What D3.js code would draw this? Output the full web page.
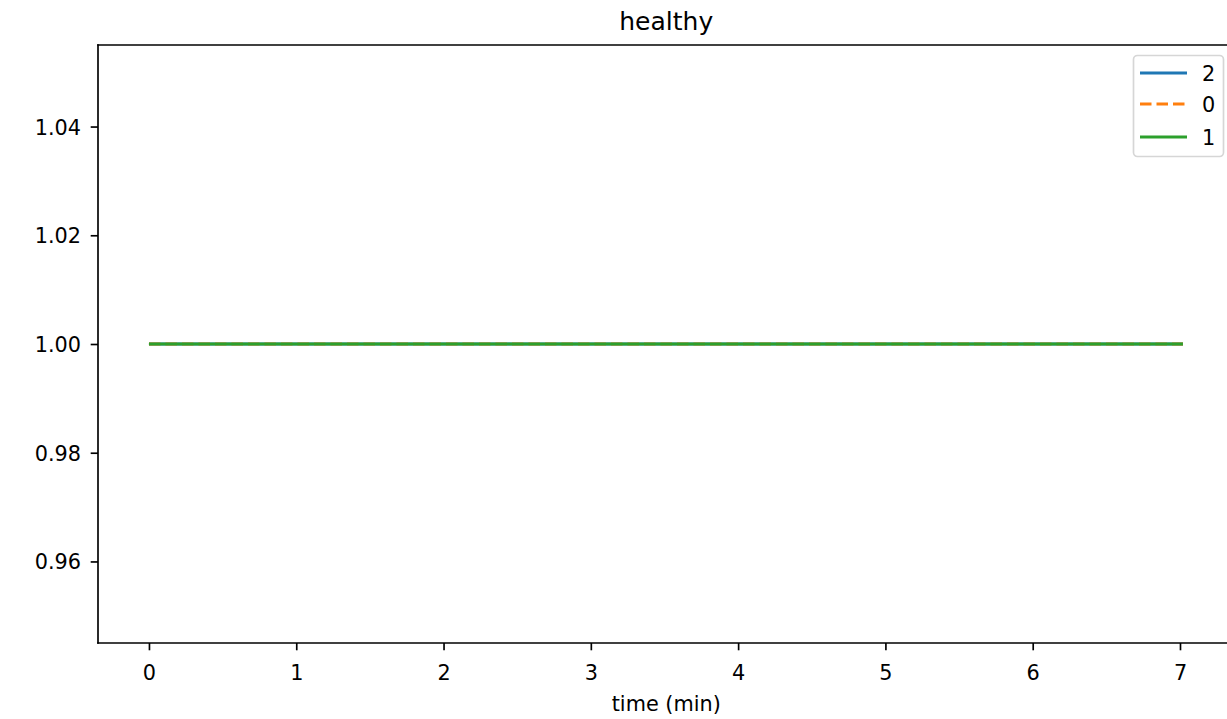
<!DOCTYPE html>
<html><head><meta charset="utf-8">
<script src="https://cdn.jsdelivr.net/npm/d3@7"></script>
<style>body{margin:0;background:#fff;}svg{display:block;font-family:"DejaVu Sans",sans-serif;}</style>
</head><body><svg id="c" width="1227" height="719"></svg>
<script>
const title = "healthy";
const xLabel = "time (min)";
const times = [0, 1, 2, 3, 4, 5, 6, 7, 7.02];
const series2 = [1, 1, 1, 1, 1, 1, 1, 1, 1];
const series0 = [1, 1, 1, 1, 1, 1, 1, 1, 1];
const series1 = [1, 1, 1, 1, 1, 1, 1, 1, 1];
const seriesNames = ["2", "0", "1"];
const seriesColors = ["#1f77b4", "#ff7f0e", "#2ca02c"];
const xTicks = [0, 1, 2, 3, 4, 5, 6, 7];
const yTicks = [0.96, 0.98, 1.00, 1.02, 1.04];

const svg = d3.select("#c");
const L = 98, T = 45, B = 643;
const FS = 20.8;
const x = d3.scaleLinear().domain([-0.346, 7.37]).range([L, L + 7.716 * 147.29]);
const y = d3.scaleLinear().domain([0.945, 1.055]).range([B, T]);
const R = x.range()[1];

const xAxis = svg.append("g").attr("transform", `translate(0,${B})`)
  .call(d3.axisBottom(x).tickValues(xTicks).tickFormat(d3.format("d")).tickSize(7.3).tickSizeOuter(0));
const yAxis = svg.append("g").attr("transform", `translate(${L},0)`)
  .call(d3.axisLeft(y).tickValues(yTicks).tickFormat(d3.format(".2f")).tickSize(7.3).tickSizeOuter(0));
[xAxis, yAxis].forEach(g => {
  g.select(".domain").remove();
  g.selectAll(".tick line").attr("stroke", "#000").attr("stroke-width", 1.67);
  g.selectAll(".tick text").attr("fill", "#000").style("font-size", FS + "px").style("font-family", "DejaVu Sans");
});
xAxis.selectAll(".tick text").attr("y", 37).attr("dy", 0);
yAxis.selectAll(".tick text").attr("x", -17).attr("dy", "0.36em");

// spines
const sp = (x1, y1, x2, y2) => svg.append("line").attr("x1", x1).attr("y1", y1).attr("x2", x2).attr("y2", y2)
  .attr("stroke", "#000").attr("stroke-width", 1.67).attr("stroke-linecap", "square");
sp(L, T, L, B); sp(L, B, R, B); sp(L, T, R, T); sp(R, T, R, B);

const allSeries = [series2, series0, series1];
const line = d3.line().x((d, i) => x(times[i])).y(d => y(d));
allSeries.forEach((s, k) => {
  svg.append("path").datum(s).attr("d", line).attr("fill", "none")
    .attr("stroke", seriesColors[k]).attr("stroke-width", 3.1)
    .attr("stroke-dasharray", k === 1 ? "11.5,5" : null);
});

svg.append("text").attr("x", (L + R) / 2).attr("y", 30).attr("text-anchor", "middle")
  .style("font-size", "25px").text(title);
svg.append("text").attr("x", (L + R) / 2).attr("y", 711).attr("text-anchor", "middle")
  .style("font-size", FS + "px").text(xLabel);

// legend
const lg = svg.append("g");
lg.append("rect").attr("x", 1133.5).attr("y", 55.5).attr("width", 90).attr("height", 101).attr("rx", 4)
  .attr("fill", "#fff").attr("fill-opacity", 0.8).attr("stroke", "#d6d6d6").attr("stroke-width", 1.67);
const ly = [73, 104, 137];
seriesNames.forEach((n, k) => {
  lg.append("line").attr("x1", 1140).attr("x2", 1187).attr("y1", ly[k]).attr("y2", ly[k])
    .attr("stroke", seriesColors[k]).attr("stroke-width", 3.1)
    .attr("stroke-dasharray", k === 1 ? "11.5,5" : null);
  lg.append("text").attr("x", 1202).attr("y", ly[k] + 8).style("font-size", FS + "px").text(n);
});
</script></body></html>
